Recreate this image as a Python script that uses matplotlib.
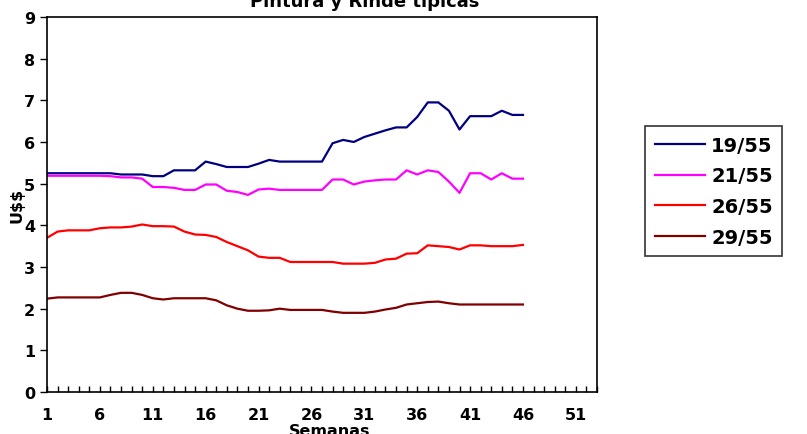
import numpy as np
import matplotlib.pyplot as plt

weeks = list(range(1, 47))

s19_55 = [5.25, 5.25, 5.25, 5.25, 5.25, 5.25, 5.25, 5.22, 5.22, 5.22,
          5.18, 5.18, 5.32, 5.32, 5.32, 5.53, 5.47, 5.40, 5.40, 5.40,
          5.48, 5.57, 5.53, 5.53, 5.53, 5.53, 5.53, 5.97, 6.05, 6.00,
          6.12, 6.20, 6.28, 6.35, 6.35, 6.60, 6.95, 6.95, 6.75, 6.30,
          6.62, 6.62, 6.62, 6.75, 6.65, 6.65]
s21_55 = [5.19, 5.19, 5.19, 5.19, 5.19, 5.19, 5.18, 5.15, 5.15, 5.12,
          4.92, 4.92, 4.90, 4.85, 4.85, 4.98, 4.98, 4.83, 4.80, 4.73,
          4.86, 4.88, 4.85, 4.85, 4.85, 4.85, 4.85, 5.10, 5.10, 4.98,
          5.05, 5.08, 5.10, 5.10, 5.32, 5.22, 5.32, 5.28, 5.05, 4.78,
          5.25, 5.25, 5.10, 5.25, 5.12, 5.12]
s26_55 = [3.70, 3.85, 3.88, 3.88, 3.88, 3.93, 3.95, 3.95, 3.97, 4.02,
          3.98, 3.98, 3.97, 3.85, 3.78, 3.77, 3.72, 3.60, 3.50, 3.40,
          3.25, 3.22, 3.22, 3.12, 3.12, 3.12, 3.12, 3.12, 3.08, 3.08,
          3.08, 3.10, 3.18, 3.20, 3.32, 3.33, 3.52, 3.50, 3.48, 3.42,
          3.52, 3.52, 3.50, 3.50, 3.50, 3.53]
s29_55 = [2.24, 2.27, 2.27, 2.27, 2.27, 2.27, 2.33, 2.38, 2.38, 2.33,
          2.25, 2.22, 2.25, 2.25, 2.25, 2.25, 2.20, 2.08, 2.00, 1.95,
          1.95, 1.96, 2.00, 1.97, 1.97, 1.97, 1.97, 1.93, 1.90, 1.90,
          1.90, 1.93, 1.98, 2.02, 2.10, 2.13, 2.16, 2.17, 2.13, 2.10,
          2.10, 2.10, 2.10, 2.10, 2.10, 2.10]

labels = ["19/55", "21/55", "26/55", "29/55"]
colors = ["#000080", "#FF00FF", "#FF0000", "#800000"]
series = [s19_55, s21_55, s26_55, s29_55]

plt.rcParams['font.family'] = ['DejaVu Sans']
plt.rcParams['font.weight'] = 'bold'
plt.rcParams['text.parse_math'] = False

fig = plt.figure(figsize=(8.07, 4.35), dpi=100)
ax = fig.add_axes([47/807, 1-393/435, 550/807, 375/435])

for vals, lab, col in zip(series, labels, colors):
    ax.plot(weeks, vals, color=col, lw=1.6, label=lab)

ax.set_xlim(1, 53)
ax.set_ylim(0, 9)
ax.set_yticks(range(0, 10))
ax.set_xticks(range(1, 54))
ax.set_xticklabels([str(w) if (w - 1) % 5 == 0 else "" for w in range(1, 54)])
ax.tick_params(axis='x', direction='in', length=4, width=1, labelsize=11.5, pad=11)
ax.tick_params(axis='y', direction='out', length=5, width=1, labelsize=11.5)
for sp in ax.spines.values():
    sp.set_linewidth(1.2)

ax.set_ylabel("U$$", fontsize=11.5, fontweight='bold', labelpad=0)
ax.set_xlabel("Semanas", fontsize=11.5, fontweight='bold', labelpad=-1)
ax.xaxis.set_label_coords((330 - 47) / 550, -0.083)
fig.text(365/807, 0.995, "Pintura y Rinde típicas", ha='center', va='center',
         fontsize=13, fontweight='bold')

leg = fig.legend(loc='upper left', bbox_to_anchor=(645/807, 1-127/435),
                 fontsize=14, frameon=True, fancybox=False, handlelength=2.6,
                 handletextpad=0.3, labelspacing=0.6, borderpad=0.5,
                 borderaxespad=0)
leg.get_frame().set_edgecolor('black')
leg.get_frame().set_linewidth(1.2)

fig.savefig("out.png", dpi=100)
